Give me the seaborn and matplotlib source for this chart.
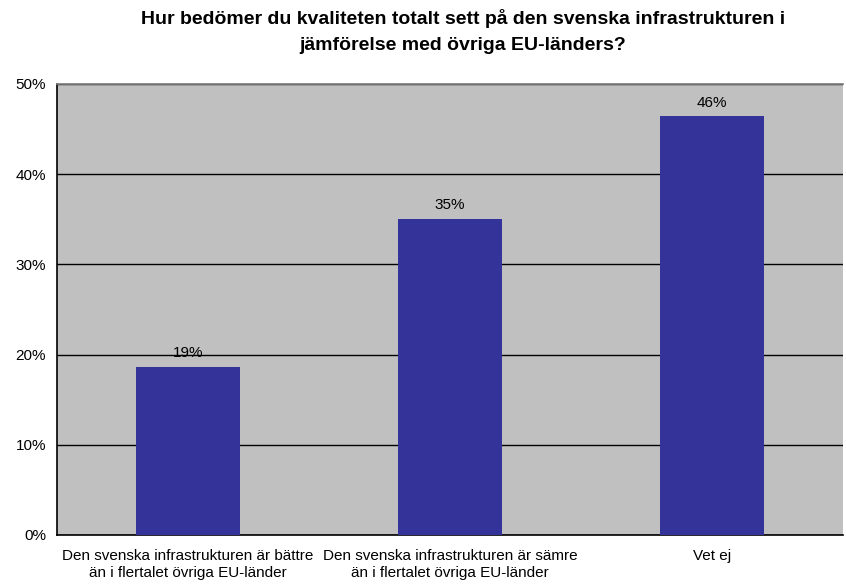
import seaborn as sns
import matplotlib.pyplot as plt
import pandas as pd
from matplotlib.ticker import FixedLocator, PercentFormatter

sns.set_theme(style="white")
plt.rcParams['font.family'] = ['Liberation Sans', 'DejaVu Sans']
plt.rcParams['text.color'] = 'black'

categories = [
    "Den svenska infrastrukturen är bättre\nän i flertalet övriga EU-länder",
    "Den svenska infrastrukturen är sämre\nän i flertalet övriga EU-länder",
    "Vet ej",
]
shares = [18.6, 35.0, 46.4]

df = pd.DataFrame({"svar": categories, "andel": shares})

fig, ax = plt.subplots(figsize=(8.46, 5.85), dpi=100)
fig.subplots_adjust(left=57 / 846, right=843 / 846, top=1 - 84 / 585, bottom=1 - 535 / 585)

sns.barplot(ax=ax, data=df, x="svar", y="andel", color="#333399", width=0.4,
            saturation=1, edgecolor="none", zorder=3)
ax.bar_label(ax.containers[0], labels=[f"{v:.0f}%" for v in shares],
             padding=5, fontsize=11, color="black")

ax.set_facecolor("#C0C0C0")
ax.set_ylim(0, 50)
ax.set_xlim(-0.5, 2.5)
ax.yaxis.set_major_locator(FixedLocator([0, 10, 20, 30, 40, 50]))
ax.yaxis.set_major_formatter(PercentFormatter(decimals=0))
ax.grid(axis="y", color="black", linewidth=1, zorder=0)
ax.grid(axis="x", visible=False)

ax.xaxis.set_minor_locator(FixedLocator([-0.5, 0.5, 1.5, 2.5]))
ax.tick_params(axis="x", which="major", length=0, pad=10, labelsize=11)
ax.tick_params(axis="x", which="minor", length=5, width=1, direction="out")
ax.tick_params(axis="y", length=5, width=1, direction="out", labelsize=11, pad=3)
ax.tick_params(axis="both", which="both", colors="black")
for lbl in ax.get_xticklabels():
    lbl.set_linespacing(1.3)

for side in ["left", "bottom"]:
    ax.spines[side].set_color("black")
    ax.spines[side].set_linewidth(1.2)
ax.spines["top"].set_color("#808080")
ax.spines["right"].set_visible(False)

ax.set_xlabel("")
ax.set_ylabel("")
fig.suptitle("Hur bedömer du kvaliteten totalt sett på den svenska infrastrukturen i\n"
             "jämförelse med övriga EU-länders?",
             fontsize=14, fontweight="bold", x=0.547, y=0.985, linespacing=1.7, color="black")

fig.savefig("out.png", dpi=100, facecolor="white")
